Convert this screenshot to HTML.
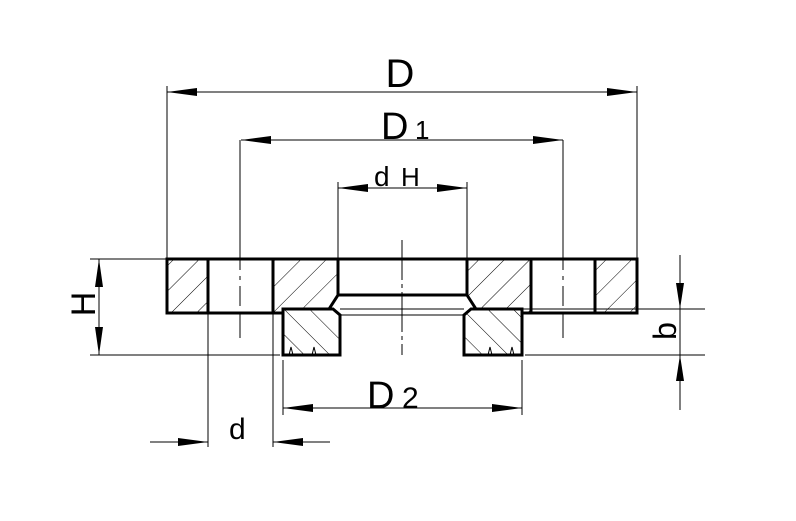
<!DOCTYPE html>
<html><head><meta charset="utf-8"><style>html,body{margin:0;padding:0;background:#fff}svg{display:block}</style></head>
<body>
<svg width="796" height="521" viewBox="0 0 796 521" xmlns="http://www.w3.org/2000/svg">
<defs>
<pattern id="h1" width="18" height="18" patternUnits="userSpaceOnUse" patternTransform="rotate(45)">
<line x1="0" y1="0" x2="0" y2="18" stroke="#000" stroke-width="1"/></pattern>
<pattern id="h2" width="18" height="18" patternUnits="userSpaceOnUse" patternTransform="rotate(-45)">
<line x1="0" y1="0" x2="0" y2="18" stroke="#000" stroke-width="1"/></pattern>
</defs>
<g fill="url(#h1)" stroke="#000" stroke-width="3" stroke-linejoin="miter">
<polygon points="167,259 208,259 208,313 167,313"/>
<polygon points="273,259 338,259 338,295 329,309 283,309 283,313 273,313"/>
<polygon points="467,259 531,259 531,313 522,313 522,309 476,309 467,295"/>
<polygon points="595,259 637,259 637,313 595,313"/>
</g>
<g fill="url(#h2)" stroke="#000" stroke-width="3">
<polygon points="283,309 333,309 340,315 340,355 283,355"/>
<polygon points="464,315 471,309 522,309 522,355 464,355"/>
</g>
<g stroke="#000" stroke-width="3" fill="none">
<line x1="167" y1="259" x2="637" y2="259"/>
<line x1="208" y1="313" x2="273" y2="313"/>
<line x1="531" y1="313" x2="595" y2="313"/>
<line x1="338" y1="295" x2="467" y2="295"/>
</g>
<g stroke="#000" stroke-width="1" fill="none">
<line x1="340" y1="309" x2="464" y2="309"/>
<line x1="340" y1="315" x2="464" y2="315"/>
<line x1="402" y1="240" x2="402" y2="355" stroke-dasharray="40,4,4,4"/>
<line x1="240" y1="140" x2="240" y2="338" stroke-dasharray="130,6,4,6,20,6"/>
<line x1="563" y1="140" x2="563" y2="338" stroke-dasharray="130,6,4,6,20,6"/>
<line x1="167" y1="86" x2="167" y2="259"/>
<line x1="637" y1="86" x2="637" y2="259"/>
<line x1="338" y1="182" x2="338" y2="259"/>
<line x1="467" y1="182" x2="467" y2="259"/>
<line x1="90" y1="259" x2="167" y2="259"/>
<line x1="90" y1="355" x2="280" y2="355"/>
<line x1="522" y1="309" x2="705" y2="309"/>
<line x1="525" y1="355" x2="705" y2="355"/>
<line x1="208" y1="313" x2="208" y2="447"/>
<line x1="273" y1="313" x2="273" y2="447"/>
<line x1="283" y1="360" x2="283" y2="415"/>
<line x1="522" y1="360" x2="522" y2="415"/>
<line x1="167" y1="92" x2="637" y2="92"/>
<line x1="241" y1="140" x2="563" y2="140"/>
<line x1="338" y1="188" x2="467" y2="188"/>
<line x1="99" y1="259" x2="99" y2="355"/>
<line x1="680" y1="255" x2="680" y2="410"/>
<line x1="283" y1="408" x2="522" y2="408"/>
<line x1="150" y1="442" x2="208" y2="442"/>
<line x1="273" y1="442" x2="330" y2="442"/>
<path d="M289,355 L291,347 L293,355 M312,355 L314,347 L316,355 M488,355 L490,347 L492,355 M510,355 L512,347 L514,355"/>
</g>
<g fill="#000">
<polygon points="167,92 197,88 197,96"/><polygon points="637,92 607,88 607,96"/>
<polygon points="241,140 271,136 271,144"/><polygon points="563,140 533,136 533,144"/>
<polygon points="338,188 368,184 368,192"/><polygon points="467,188 437,184 437,192"/>
<polygon points="99,259 95,287 103,287"/><polygon points="99,355 95,327 103,327"/>
<polygon points="680,309 676,283 684,283"/><polygon points="680,355 676,381 684,381"/>
<polygon points="283,408 313,404 313,412"/><polygon points="522,408 492,404 492,412"/>
<polygon points="208,442 178,438 178,446"/><polygon points="273,442 303,438 303,446"/>
</g>
<g font-family="Liberation Sans, sans-serif" fill="#000" font-weight="normal">
<text x="400" y="87" font-size="40" text-anchor="middle">D</text>
<text x="381" y="139" font-size="38">D</text>
<text x="415" y="139" font-size="26">1</text>
<text x="374" y="186" font-size="28">d</text>
<text x="401" y="186" font-size="26">H</text>
<text x="367" y="408" font-size="38">D</text>
<text x="402" y="408" font-size="30">2</text>
<text x="229" y="439" font-size="30">d</text>
<text x="0" y="0" font-size="34" transform="translate(95,304) rotate(-90)" text-anchor="middle">H</text>
<text x="0" y="0" font-size="32" transform="translate(676,331) rotate(-90)" text-anchor="middle">b</text>
</g>
</svg>
</body></html>
